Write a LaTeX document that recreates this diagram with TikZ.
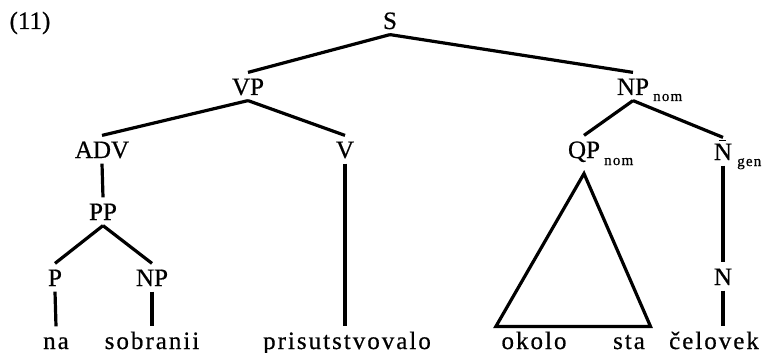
\documentclass[tikz,border=0pt]{standalone}
\usepackage{fontspec}
\setmainfont[FakeBold=0.6]{Liberation Serif}
\newfontfamily\wordfont[LetterSpace=8,FakeBold=0.6]{Liberation Serif}
\newcommand{\nbar}{\rlap{\hspace{5pt}\raisebox{19pt}{\rule{7pt}{1.2pt}}}N}

\begin{document}
\begin{tikzpicture}[x=1pt,y=-1pt,line width=3.2pt,
  cat/.style={font=\fontsize{25}{28}\selectfont,anchor=base,inner sep=4pt,text height=17pt,text depth=0pt},
  word/.style={cat,font=\fontsize{25}{28}\selectfont\wordfont},
  sub/.style={font=\fontsize{15}{17}\selectfont\wordfont,anchor=base west,inner sep=0pt}]
\useasboundingbox (0,0) rectangle (769,353);
\node[cat] (num) at (30,29) {(11)};
\node[cat] (s) at (390,29) {S};
\node[cat] (vp) at (248,95) {VP};
\node[cat] (np) at (633,95) {NP};
\node[sub] (npsub) at ([xshift=-3pt,yshift=-6pt]np.base east) {nom};
\node[cat] (adv) at (102,158) {ADV};
\node[cat] (v) at (345,158) {V};
\node[cat] (qp) at (584,158) {QP};
\node[sub] (qpsub) at ([xshift=-3pt,yshift=-7pt]qp.base east) {nom};
\node[cat] (nbar) at (723,160) {\nbar};
\node[sub] (nbarsub) at ([xshift=-2pt,yshift=-6pt]nbar.base east) {gen};
\node[cat] (pp) at (103,220) {PP};
\node[cat] (p) at (55,286) {P};
\node[cat] (npb) at (152,286) {NP};
\node[cat] (n) at (723,285) {N};
\node[word] (na) at (56,349) {na};
\node[word] (sobranii) at (152,349) {sobranii};
\node[word] (prisut) at (347,349) {prisutstvovalo};
\node[word] (okolo) at (534,349) {okolo};
\node[word] (sta) at (629,349) {sta};
\node[word] (celovek) at (714,349) {čelovek};
\draw (s.south) -- (vp.north);
\draw (s.south) -- (np.north);
\draw (vp.south) -- (adv.north);
\draw (vp.south) -- (v.north);
\draw (adv.south) -- (pp.north);
\draw (pp.south) -- (p.north);
\draw (pp.south) -- (npb.north);
\draw (p.south) -- (na.north);
\draw (npb.south) -- (sobranii.north);
\draw (v.south) -- (v.south |- prisut.north);
\draw (np.south) -- (qp.north);
\draw (np.south) -- (nbar.north);
\draw (nbar.south) -- (n.north);
\draw (n.south) -- (n.south |- celovek.north);
\draw[line join=miter] ([yshift=-10pt]qp.south) -- (okolo.north west) -- (sta.north east) -- cycle;
\end{tikzpicture}
\end{document}
